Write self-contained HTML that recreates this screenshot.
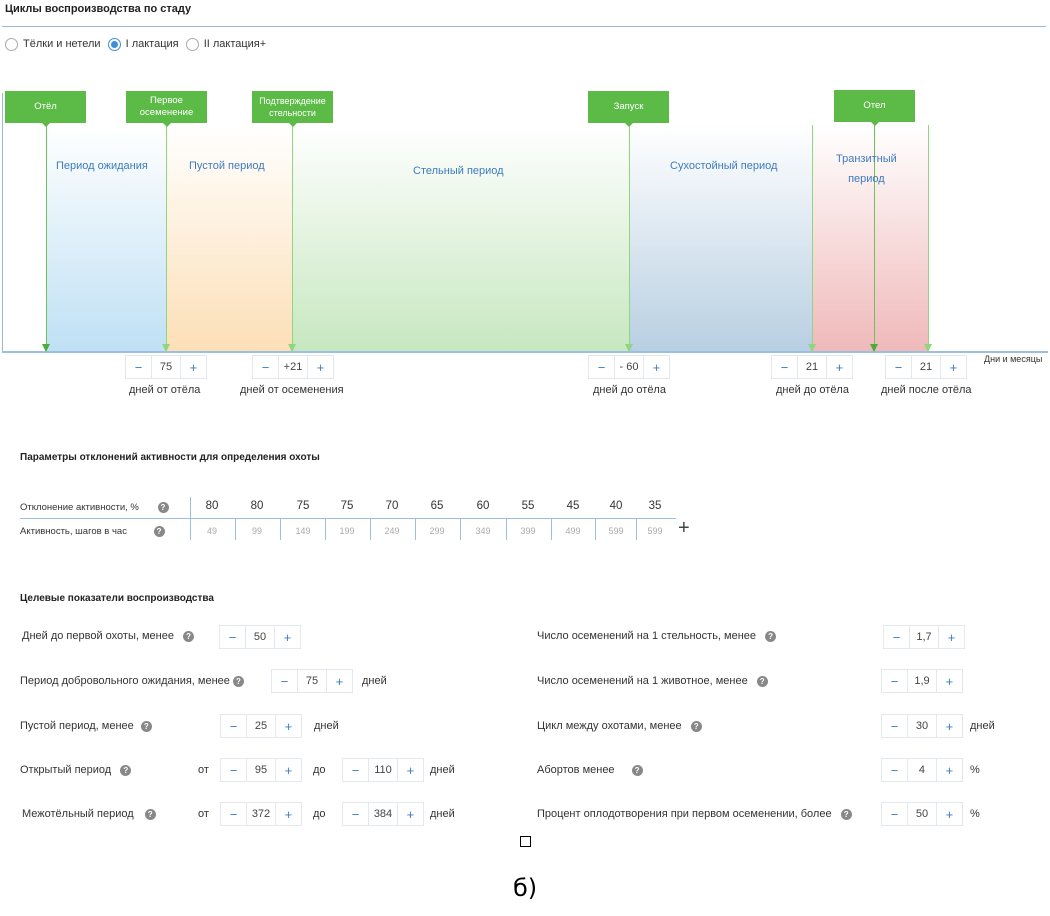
<!DOCTYPE html>
<html><head><meta charset="utf-8">
<style>
body{margin:0;width:1050px;height:916px;background:#fff;font-family:"Liberation Sans","DejaVu Sans",sans-serif;position:relative;overflow:hidden;color:#333}
.a{position:absolute}
.t{font-size:11px;color:#333;white-space:nowrap}
.h{font-size:11px;font-weight:bold;color:#222;white-space:nowrap}
.tag{position:absolute;background:#5cba47;color:#fff;font-size:9.5px;text-align:center;display:flex;align-items:center;justify-content:center;line-height:12px;height:32px;width:81px}
.tag:after{content:"";position:absolute;left:50%;bottom:-4px;margin-left:-4px;border-left:4px solid transparent;border-right:4px solid transparent;border-top:4px solid #5cba47}
.vl{position:absolute;width:1px;background:#8fd67f}
.per{position:absolute;top:125px;height:227px}
.pl{position:absolute;font-size:11px;color:#3c7bbd;text-align:center;white-space:nowrap}
.st{position:absolute;height:22px;width:80px;border:1px solid #e3e8ee;display:flex;font-size:11px;background:#fff}
.st span{flex:1;display:flex;align-items:center;justify-content:center;color:#3c7bbd;font-size:13px}
.st span.v{border-left:1px solid #e3e8ee;border-right:1px solid #e3e8ee;color:#444;font-size:11px;flex:1.1}
.q{display:inline-block;width:11px;height:11px;border-radius:50%;background:#888;color:#fff;font-size:8px;text-align:center;line-height:11px;font-weight:bold;vertical-align:middle}
.mk{position:absolute;top:344px;width:0;height:0;border-left:4px solid transparent;border-right:4px solid transparent}
.radio{display:inline-block;width:11px;height:11px;border:1px solid #aaa;border-radius:50%;vertical-align:middle;margin-right:5px;position:relative}
</style></head><body>
<div class="a h" style="left:5px;top:3px;font-size:11px">Циклы воспроизводства по стаду</div>
<div class="a" style="left:2px;top:26px;width:1044px;height:1px;background:#9bb8d6"></div>
<div class="a t" style="left:5px;top:38px">
<span><span class="radio"></span>Тёлки и нетели</span>
<span style="margin-left:4px"><span class="radio" style="border-color:#3c8fd6"><span style="position:absolute;left:2px;top:2px;width:7px;height:7px;border-radius:50%;background:#3c8fd6"></span></span>I лактация</span>
<span style="margin-left:4px"><span class="radio"></span>II лактация+</span>
</div>

<!-- timeline -->
<div class="a" style="left:2px;top:93px;width:1px;height:260px;background:#9bb8d6"></div>
<div class="per" style="left:46px;width:120px;background:linear-gradient(#fff,#bfe0f4)"></div>
<div class="per" style="left:166px;width:126px;background:linear-gradient(#fff,#fcdfb6)"></div>
<div class="per" style="left:292px;width:337px;background:linear-gradient(#fff,#c7e7c0)"></div>
<div class="per" style="left:629px;width:183px;background:linear-gradient(#fff,#b8cfe2)"></div>
<div class="per" style="left:812px;width:116px;background:linear-gradient(#fff,#f0b9ba)"></div>
<div class="a" style="left:2px;top:351px;width:1046px;height:2px;background:#9bbfe0"></div>
<div class="a" style="left:984px;top:354px;font-size:9px;color:#333">Дни и месяцы</div>

<div class="vl" style="left:46px;top:123px;height:228px;background:#6cc35a"></div>
<div class="vl" style="left:166px;top:123px;height:228px"></div>
<div class="vl" style="left:292px;top:123px;height:228px"></div>
<div class="vl" style="left:629px;top:123px;height:228px"></div>
<div class="vl" style="left:812px;top:125px;height:226px"></div>
<div class="vl" style="left:874px;top:122px;height:229px;background:#6cc35a"></div>
<div class="vl" style="left:928px;top:125px;height:226px"></div>

<div class="mk" style="left:42px;border-top:8px solid #4cae3a"></div>
<div class="mk" style="left:162px;border-top:8px solid #8fd67f"></div>
<div class="mk" style="left:288px;border-top:8px solid #8fd67f"></div>
<div class="mk" style="left:625px;border-top:8px solid #8fd67f"></div>
<div class="mk" style="left:808px;border-top:8px solid #8fd67f"></div>
<div class="mk" style="left:870px;border-top:8px solid #4cae3a"></div>
<div class="mk" style="left:924px;border-top:8px solid #8fd67f"></div>

<div class="tag" style="left:5px;top:91px">Отёл</div>
<div class="tag" style="left:126px;top:91px">Первое<br>осеменение</div>
<div class="tag" style="left:252px;top:91px;font-size:9px">Подтверждение<br>стельности</div>
<div class="tag" style="left:588px;top:91px">Запуск</div>
<div class="tag" style="left:834px;top:90px">Отел</div>

<div class="pl" style="left:56px;top:160px">Период ожидания</div>
<div class="pl" style="left:189px;top:160px">Пустой период</div>
<div class="pl" style="left:413px;top:165px">Стельный период</div>
<div class="pl" style="left:670px;top:160px">Сухостойный период</div>
<div class="pl" style="left:836px;top:149px;line-height:20px">Транзитный<br>период</div>

<div class="st" style="left:125px;top:355px"><span>−</span><span class="v">75</span><span>+</span></div>
<div class="a t" style="left:129px;top:384px">дней от отёла</div>
<div class="st" style="left:252px;top:355px"><span>−</span><span class="v">+21</span><span>+</span></div>
<div class="a t" style="left:240px;top:384px">дней от осеменения</div>
<div class="st" style="left:588px;top:355px"><span>−</span><span class="v">- 60</span><span>+</span></div>
<div class="a t" style="left:593px;top:384px">дней до отёла</div>
<div class="st" style="left:771px;top:355px"><span>−</span><span class="v">21</span><span>+</span></div>
<div class="a t" style="left:776px;top:384px">дней до отёла</div>
<div class="st" style="left:885px;top:355px"><span>−</span><span class="v">21</span><span>+</span></div>
<div class="a t" style="left:881px;top:384px">дней после отёла</div>

<!-- activity table -->
<div class="a h" style="left:20px;top:452px;font-size:10px">Параметры отклонений активности для определения охоты</div>
<div class="a" style="left:20px;top:502px;font-size:9.5px">Отклонение активности, % <span class="q" style="margin-left:16px">?</span></div>
<div class="a" style="left:20px;top:526px;font-size:9.5px">Активность, шагов в час <span class="q" style="margin-left:24px">?</span></div>
<div class="a" style="left:20px;top:518px;width:656px;height:1px;background:#9bbfe0"></div>
<div class="a" style="left:190px;top:497px;width:1px;height:43px;background:#9bbfe0"></div>
<div id="tbl"></div>
<div class="a" style="left:678px;top:518px;font-size:20px;color:#444;line-height:20px">+</div>

<!-- targets -->
<div class="a h" style="left:20px;top:593px;font-size:10px">Целевые показатели воспроизводства</div>

<div class="a t" style="left:22px;top:630px">Дней до первой охоты, менее <span class="q" style="margin-left:6px">?</span></div>
<div class="st" style="left:219px;top:625px"><span>−</span><span class="v">50</span><span>+</span></div>

<div class="a t" style="left:20px;top:675px">Период добровольного ожидания, менее <span class="q">?</span></div>
<div class="st" style="left:271px;top:669px"><span>−</span><span class="v">75</span><span>+</span></div>
<div class="a t" style="left:362px;top:675px">дней</div>

<div class="a t" style="left:20px;top:720px">Пустой период, менее <span class="q" style="margin-left:4px">?</span></div>
<div class="st" style="left:220px;top:714px"><span>−</span><span class="v">25</span><span>+</span></div>
<div class="a t" style="left:314px;top:720px">дней</div>

<div class="a t" style="left:20px;top:764px">Открытый период <span class="q" style="margin-left:6px">?</span></div>
<div class="a t" style="left:198px;top:764px">от</div>
<div class="st" style="left:220px;top:758px"><span>−</span><span class="v">95</span><span>+</span></div>
<div class="a t" style="left:313px;top:764px">до</div>
<div class="st" style="left:342px;top:758px"><span>−</span><span class="v">110</span><span>+</span></div>
<div class="a t" style="left:430px;top:764px">дней</div>

<div class="a t" style="left:22px;top:808px">Межотёльный период <span class="q" style="margin-left:8px">?</span></div>
<div class="a t" style="left:198px;top:808px">от</div>
<div class="st" style="left:220px;top:802px"><span>−</span><span class="v">372</span><span>+</span></div>
<div class="a t" style="left:313px;top:808px">до</div>
<div class="st" style="left:342px;top:802px"><span>−</span><span class="v">384</span><span>+</span></div>
<div class="a t" style="left:430px;top:808px">дней</div>

<div class="a t" style="left:537px;top:630px">Число осеменений на 1 стельность, менее <span class="q" style="margin-left:6px">?</span></div>
<div class="st" style="left:883px;top:625px"><span>−</span><span class="v">1,7</span><span>+</span></div>
<div class="a t" style="left:537px;top:675px">Число осеменений на 1 животное, менее <span class="q" style="margin-left:6px">?</span></div>
<div class="st" style="left:881px;top:669px"><span>−</span><span class="v">1,9</span><span>+</span></div>
<div class="a t" style="left:537px;top:720px">Цикл между охотами, менее <span class="q" style="margin-left:6px">?</span></div>
<div class="st" style="left:881px;top:714px"><span>−</span><span class="v">30</span><span>+</span></div>
<div class="a t" style="left:970px;top:720px">дней</div>
<div class="a t" style="left:537px;top:764px">Абортов менее <span class="q" style="margin-left:14px">?</span></div>
<div class="st" style="left:881px;top:758px"><span>−</span><span class="v">4</span><span>+</span></div>
<div class="a t" style="left:970px;top:764px">%</div>
<div class="a t" style="left:537px;top:808px">Процент оплодотворения при первом осеменении, более <span class="q" style="margin-left:6px">?</span></div>
<div class="st" style="left:881px;top:802px"><span>−</span><span class="v">50</span><span>+</span></div>
<div class="a t" style="left:970px;top:808px">%</div>

<div class="a" style="left:520px;top:836px;width:9px;height:9px;border:1px solid #000"></div>
<div class="a" style="left:513px;top:874px;font-size:24px;color:#000;font-family:'DejaVu Sans',sans-serif">б)</div>

<script>
const deviations=[80,80,75,75,70,65,60,55,45,40,35];
const steps=[49,99,149,199,249,299,349,399,499,599,599];
const colCenters=[212,257,303,347,392,437,483,528,573,616,655];
const host=document.getElementById('tbl');
for(let i=0;i<deviations.length;i++){
  const c=colCenters[i];
  const d=document.createElement('div');
  d.className='a';
  d.style.cssText='left:'+(c-20)+'px;top:500px;width:40px;text-align:center;font-size:11.5px;color:#333';
  d.textContent=deviations[i];
  
  
  host.appendChild(d);
  const s=document.createElement('div');
  s.className='a';
  s.style.cssText='left:'+(c-20)+'px;top:526px;width:40px;text-align:center;font-size:9px;color:#aaa';
  s.textContent=steps[i];
  
  
  host.appendChild(s);
  if(i<deviations.length-1){
    const l=document.createElement('div');
    l.className='a';
    const x=(c+colCenters[i+1])/2;
    l.style.cssText='left:'+Math.round(x)+'px;top:519px;width:1px;height:21px;background:#9bbfe0';
    
    
    host.appendChild(l);
  }
}
</script>
</body></html>
